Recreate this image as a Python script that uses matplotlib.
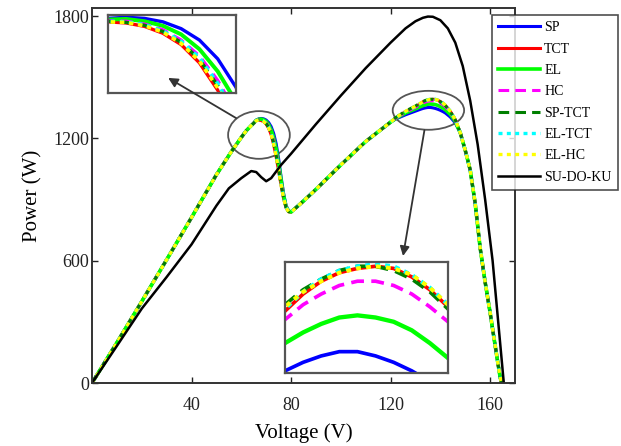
import matplotlib
matplotlib.use("Agg")
import matplotlib.pyplot as plt
from matplotlib.patches import Ellipse, ConnectionPatch
import numpy as np

plt.rcParams['font.family'] = ['Liberation Serif', 'DejaVu Serif']

# ---- data -------------------------------------------------------------
labels = ["SP", "TCT", "EL", "HC", "SP-TCT", "EL-TCT", "EL-HC", "SU-DO-KU"]

# rising branch shared by the seven conventional configurations
v_rise = [0, 10, 20, 30, 40, 50, 56, 60, 62, 64, 65]
p_rise = [0, 198, 400, 605, 812, 1022, 1135, 1205, 1238, 1263, 1275]

# first (local) peak
v_pk1 = [66, 67, 68, 69, 70, 71, 72, 73, 74, 75, 76, 77, 78, 79, 80]
p_pk1_sp = [1290, 1296, 1298, 1296, 1290, 1278, 1258, 1225, 1175, 1100, 1010, 930, 870, 845, 840]
p_pk1_tct = [1287, 1290, 1288, 1282, 1270, 1250, 1218, 1170, 1110, 1040, 970, 905, 860, 840, 838]
p_pk1_el = [1289, 1294, 1295, 1291, 1283, 1268, 1242, 1203, 1150, 1080, 995, 920, 866, 843, 839]
p_pk1_hc = [1288, 1292, 1291, 1286, 1276, 1258, 1230, 1187, 1130, 1060, 982, 912, 863, 842, 838]
p_pk1_sptct = [1288, 1291, 1289, 1284, 1273, 1254, 1224, 1178, 1118, 1048, 975, 908, 861, 841, 838]
p_pk1_eltct = [1288, 1291, 1290, 1285, 1274, 1256, 1227, 1182, 1122, 1052, 977, 909, 862, 841, 838]
p_pk1_elhc = [1287, 1290, 1289, 1283, 1272, 1252, 1221, 1174, 1114, 1044, 972, 906, 861, 840, 838]

# valley to second peak
v_mid = [85, 90, 100, 110, 120]
p_mid = [893, 950, 1070, 1185, 1280]

# second (global) peak
v_pk2 = [122, 126, 130, 132, 133, 134, 135, 136, 137, 138, 139, 140, 141, 142, 144, 146]
p_pk2_sp = [1295, 1316, 1334, 1343, 1347, 1350, 1352, 1352, 1350, 1347, 1343, 1338, 1332, 1325, 1305, 1276]
p_pk2_tct = [1300, 1331, 1356, 1371, 1379, 1385, 1389, 1391, 1392, 1391, 1387, 1381, 1373, 1362, 1333, 1292]
p_pk2_el = [1297, 1325, 1345, 1356, 1361, 1365, 1368, 1369, 1368, 1366, 1362, 1356, 1349, 1341, 1318, 1283]
p_pk2_hc = [1299, 1329, 1353, 1367, 1374, 1379, 1383, 1385, 1385, 1383, 1379, 1373, 1366, 1356, 1328, 1289]
p_pk2_sptct = [1302, 1334, 1359, 1374, 1381, 1386, 1390, 1392, 1392, 1390, 1386, 1380, 1372, 1361, 1332, 1291]
p_pk2_eltct = [1301, 1332, 1357, 1372, 1380, 1386, 1390, 1392, 1393, 1392, 1388, 1382, 1374, 1363, 1334, 1292]
p_pk2_elhc = [1301, 1333, 1358, 1373, 1380, 1385, 1389, 1391, 1392, 1391, 1388, 1382, 1374, 1363, 1333, 1292]

# falling branch towards open circuit
v_fall = [148, 150, 152, 154, 156, 158, 160, 162, 164, 164.6]
p_fall = [1228, 1142, 1045, 880, 662, 495, 345, 185, 30, 0]

# SU-DO-KU arrangement
v_sdk = [0, 10, 20, 30, 40, 50, 55, 60, 64, 66, 68, 70, 72, 76, 80, 90, 100, 110,
         120, 126, 130, 133, 135, 137, 140, 143, 146, 149, 152, 155, 158, 161, 164, 165.5]
p_sdk = [0, 182, 365, 520, 680, 870, 955, 1005, 1040, 1035, 1010, 990, 1005, 1070, 1125,
         1270, 1410, 1545, 1670, 1740, 1775, 1792, 1798, 1797, 1780, 1740, 1670, 1555,
         1385, 1170, 900, 600, 200, 0]

x_ticks = [40, 80, 120, 160]
y_ticks = [0, 600, 1200, 1800]

# ---- styles -----------------------------------------------------------
colors = ["#0000ff", "#ff0000", "#00ff00", "#ff00ff", "#007f00", "#00ffff", "#ffff00", "#000000"]
styles = ["-", "-", "-", (0, (3.5, 2)), (0, (3.5, 2)), (0, (1.2, 1.3)), (0, (1.2, 1.3)), "-"]
widths = [2.2, 2.2, 2.6, 2.2, 2.2, 2.4, 2.4, 1.8]

pk1 = [p_pk1_sp, p_pk1_tct, p_pk1_el, p_pk1_hc, p_pk1_sptct, p_pk1_eltct, p_pk1_elhc]
pk2 = [p_pk2_sp, p_pk2_tct, p_pk2_el, p_pk2_hc, p_pk2_sptct, p_pk2_eltct, p_pk2_elhc]

curves = []
for a, b in zip(pk1, pk2):
    v = np.concatenate([v_rise, v_pk1, v_mid, v_pk2, v_fall])
    p = np.concatenate([p_rise, a, p_mid, b, p_fall])
    curves.append((v, p))
curves.append((np.array(v_sdk), np.array(p_sdk)))

# ---- figure -----------------------------------------------------------
W, H = 621, 446
fig = plt.figure(figsize=(W / 100, H / 100), dpi=100)
ax = fig.add_axes([92 / W, 1 - 383 / H, (515 - 92) / W, (383 - 8) / H])

handles = []
for (v, p), c, ls, lw, lab in zip(curves, colors, styles, widths, labels):
    ln, = ax.plot(v, p, color=c, linestyle=ls, lw=lw, label=lab)
    handles.append(ln)

ax.set_xlim(0, 170)
ax.set_ylim(0, 1840)
ax.set_xticks(x_ticks)
ax.set_yticks(y_ticks)
ax.tick_params(direction='in', top=True, right=True, length=4, width=1,
               labelsize=13, colors='#222222')
ax.tick_params(axis='x', pad=10)
ax.tick_params(axis='y', pad=2)
for s in ax.spines.values():
    s.set_color('#333333')
    s.set_linewidth(1.4)
ax.set_xlabel("Voltage (V)", fontsize=15, labelpad=7)
ax.set_ylabel("Power (W)", fontsize=15, labelpad=8)

# highlight ellipses around the two peaks
ax.add_patch(Ellipse((67.1, 1217), 24.8, 234, fill=False, ec='#555555', lw=1.3))
ax.add_patch(Ellipse((135.2, 1338), 28.7, 191, fill=False, ec='#555555', lw=1.3))

# zoomed insets
def inset(rect, xlim, ylim, lw_scale):
    ia = fig.add_axes(rect)
    for (v, p), c, ls, lw in zip(curves[:7], colors, styles, widths):
        ia.plot(v, p, color=c, linestyle=ls, lw=lw * lw_scale)
    ia.set_xlim(*xlim)
    ia.set_ylim(*ylim)
    ia.set_xticks([])
    ia.set_yticks([])
    for s in ia.spines.values():
        s.set_color('#555555')
        s.set_linewidth(1.6)
    return ia

inset([108 / W, 1 - 93 / H, 128 / W, 78 / H], (67, 74), (1165, 1302), 1.1)
inset([285 / W, 1 - 373 / H, 163 / W, 111 / H], (132, 141), (1342, 1394), 1.2)

# arrows from ellipses to insets
for tail, head in [((57.9, 1300), (30.6, 1497)), ((133.6, 1240), (125.0, 623))]:
    cp = ConnectionPatch(tail, head, coordsA=ax.transData, coordsB=ax.transData,
                         arrowstyle='-|>', mutation_scale=14, color='#333333',
                         lw=1.3, zorder=10)
    fig.add_artist(cp)

leg = fig.legend(handles=handles, labels=labels, loc='upper left',
                 bbox_to_anchor=(492 / W, 1 - 15 / H), frameon=True, fancybox=False,
                 edgecolor='#222222', fontsize=10, handlelength=3.0, labelspacing=0.6,
                 borderpad=0.45, handletextpad=0.3, borderaxespad=0)
leg.get_frame().set_linewidth(1.2)
leg.set_zorder(20)

fig.savefig("out.png", dpi=100)
